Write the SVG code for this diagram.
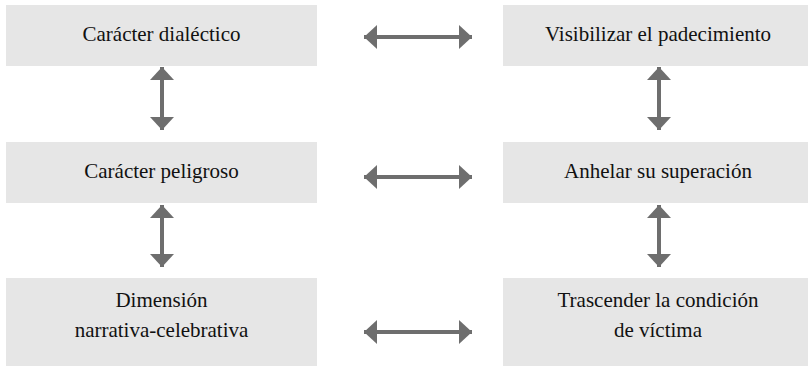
<svg xmlns="http://www.w3.org/2000/svg" width="808" height="366" viewBox="0 0 808 366">
<style>
.box{fill:#e6e6e6}
.c{stroke:#6e6e6e;stroke-width:4;fill:none}
</style>
<defs>
<marker id="ah" viewBox="0 0 13 24" refX="13" refY="12" markerWidth="13" markerHeight="24" markerUnits="userSpaceOnUse" orient="auto-start-reverse">
<path d="M0,0 L13,12 L0,24 Z" fill="#6e6e6e"/>
</marker>
</defs>
<rect width="808" height="366" fill="#ffffff"/>
<g id="n1"><rect class="box" x="6" y="5" width="311" height="61"/><text x="161.5" y="41" font-family="Times New Roman" font-size="21" fill="#111111" text-anchor="middle">Carácter dialéctico</text></g>
<g id="n2"><rect class="box" x="503" y="5" width="311" height="61"/><text x="658" y="41" font-family="Times New Roman" font-size="21" fill="#111111" text-anchor="middle">Visibilizar el padecimiento</text></g>
<g id="n3"><rect class="box" x="6" y="142" width="311" height="61"/><text x="161.5" y="178" font-family="Times New Roman" font-size="21" fill="#111111" text-anchor="middle">Carácter peligroso</text></g>
<g id="n4"><rect class="box" x="503" y="142" width="311" height="61"/><text x="658" y="178" font-family="Times New Roman" font-size="21" fill="#111111" text-anchor="middle">Anhelar su superación</text></g>
<g id="n5"><rect class="box" x="6" y="278" width="311" height="88"/><text x="161.5" y="307" font-family="Times New Roman" font-size="21" fill="#111111" text-anchor="middle">Dimensión</text><text x="161.5" y="337" font-family="Times New Roman" font-size="21" fill="#111111" text-anchor="middle">narrativa-celebrativa</text></g>
<g id="n6"><rect class="box" x="503" y="278" width="311" height="88"/><text x="658" y="307" font-family="Times New Roman" font-size="21" fill="#111111" text-anchor="middle">Trascender la condición</text><text x="658" y="337" font-family="Times New Roman" font-size="21" fill="#111111" text-anchor="middle">de víctima</text></g>
<g id="connectors">
<line class="c" x1="364" y1="37" x2="472" y2="37" marker-start="url(#ah)" marker-end="url(#ah)"/>
<line class="c" x1="364" y1="177" x2="472" y2="177" marker-start="url(#ah)" marker-end="url(#ah)"/>
<line class="c" x1="364" y1="332" x2="472" y2="332" marker-start="url(#ah)" marker-end="url(#ah)"/>
<line class="c" x1="162" y1="67" x2="162" y2="130" marker-start="url(#ah)" marker-end="url(#ah)"/>
<line class="c" x1="659" y1="67" x2="659" y2="130" marker-start="url(#ah)" marker-end="url(#ah)"/>
<line class="c" x1="162" y1="205" x2="162" y2="267" marker-start="url(#ah)" marker-end="url(#ah)"/>
<line class="c" x1="659" y1="205" x2="659" y2="267" marker-start="url(#ah)" marker-end="url(#ah)"/>
</g>
</svg>
